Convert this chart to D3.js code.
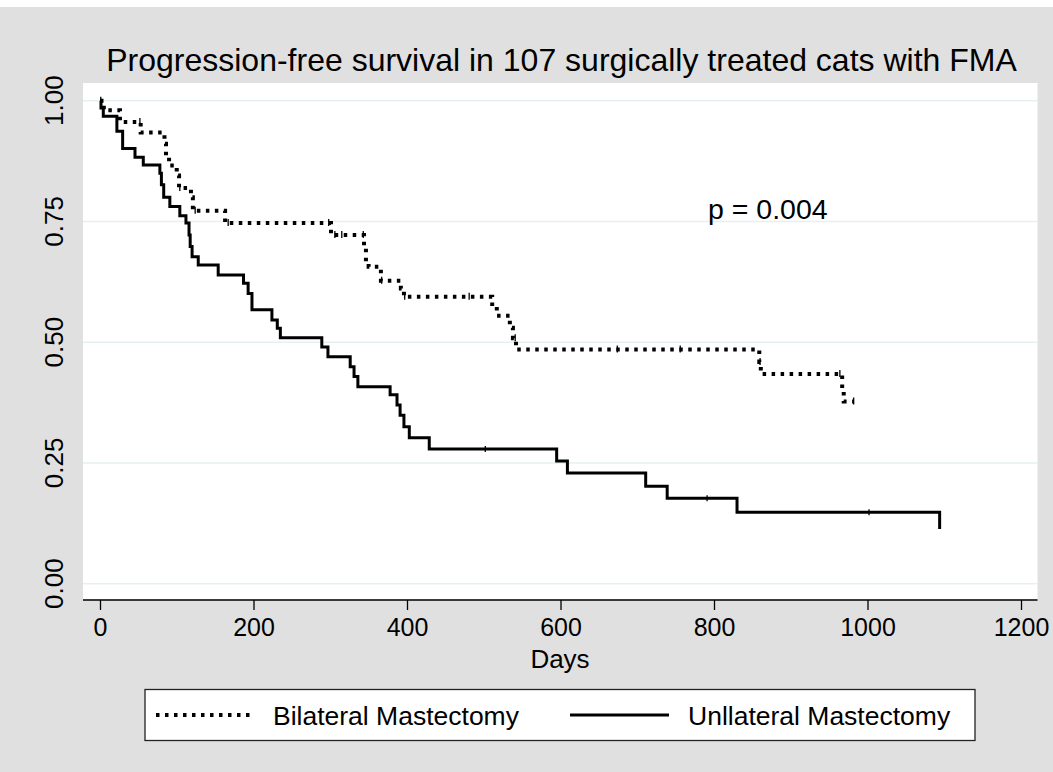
<!DOCTYPE html>
<html><head><meta charset="utf-8">
<script src="https://cdn.jsdelivr.net/npm/d3@7/dist/d3.min.js"></script>
<style>
body{margin:0;background:#e0e0e0;}
text{font-family:"Liberation Sans",Arial,Helvetica,sans-serif;fill:#000;}
</style>
</head><body>
<svg id="c" width="1053" height="772"></svg>
<script>
// ---- data ----
const titleText = "Progression-free survival in 107 surgically treated cats with FMA";
const xLabel = "Days";
const pText = "p = 0.004";
const seriesNames = ["Bilateral Mastectomy", "Unllateral Mastectomy"];
const xTicks = [0, 200, 400, 600, 800, 1000, 1200];
const yTicks = [0, 0.25, 0.5, 0.75, 1];
const yTickLabels = ["0.00", "0.25", "0.50", "0.75", "1.00"];

const bilateralTime = [0, 5, 26, 53, 84, 86, 90, 100, 103, 118.5, 121, 163, 301, 344, 346.5, 350, 366, 392, 396, 511, 517, 534, 538, 542, 859, 861, 967, 969, 982];
const bilateralSurv = [1.0, 0.980, 0.956, 0.934, 0.911, 0.887, 0.866, 0.845, 0.819, 0.800, 0.772, 0.747, 0.722, 0.694, 0.666, 0.656, 0.627, 0.611, 0.594, 0.574, 0.555, 0.530, 0.508, 0.485, 0.459, 0.434, 0.405, 0.377, 0.377];
const bilateralCensor = [1, 52, 104, 124, 167, 298, 306, 315, 343, 367, 397, 481, 541, 674, 756, 860, 964, 982];

const unilateralTime = [0, 1.3, 4.3, 22, 29.5, 45.6, 56.4, 78, 80, 83, 91, 104, 112, 116, 117.5, 120, 128, 154, 187, 193, 198, 224, 231, 235, 289, 297, 326, 331, 336, 378, 387, 391, 396, 403, 429, 595, 609, 711, 739, 830, 1094];
const unilateralSurv = [1.0, 0.985, 0.968, 0.937, 0.901, 0.883, 0.867, 0.850, 0.826, 0.800, 0.781, 0.762, 0.747, 0.722, 0.698, 0.677, 0.660, 0.639, 0.622, 0.601, 0.567, 0.546, 0.529, 0.509, 0.490, 0.470, 0.449, 0.429, 0.408, 0.391, 0.370, 0.349, 0.325, 0.302, 0.279, 0.254, 0.229, 0.202, 0.177, 0.148, 0.113];
const unilateralCensor = [502, 791, 1002];

// ---- layout ----
const W = 1053, H = 772;
const plot = {left: 83, right: 1037.5, top: 83, bottom: 599.5};
const svg = d3.select("#c");

svg.append("rect").attr("width", W).attr("height", H).attr("fill", "#e0e0e0");
svg.append("rect").attr("width", W).attr("height", 7).attr("fill", "#ffffff");
svg.append("rect").attr("x", plot.left).attr("y", plot.top)
  .attr("width", plot.right - plot.left).attr("height", plot.bottom - plot.top)
  .attr("fill", "#ffffff");

const x = d3.scaleLinear().domain([0, 1200]).range([100, 1021]);
const y = d3.scaleLinear().domain([0, 1]).range([583.7, 100.7]);

// gridlines
svg.append("g").selectAll("line").data(yTicks).join("line")
  .attr("x1", plot.left).attr("x2", plot.right)
  .attr("y1", d => y(d)).attr("y2", d => y(d))
  .attr("stroke", "#e6eff1").attr("stroke-width", 1.6);

// y tick labels (rotated)
svg.append("g").selectAll("text").data(yTicks).join("text")
  .attr("transform", d => `translate(63,${y(d)}) rotate(-90)`)
  .attr("text-anchor", "middle")
  .attr("font-size", 26)
  .text((d, i) => yTickLabels[i]);

// x axis
const xAxis = d3.axisBottom(x).tickValues(xTicks).tickSize(10).tickPadding(8).tickFormat(d3.format("d"));
const gx = svg.append("g").attr("transform", `translate(0,${plot.bottom + 0.5})`).call(xAxis);
gx.select(".domain").remove();
gx.selectAll(".tick line").attr("stroke", "#000").attr("stroke-width", 1.3);
gx.selectAll(".tick text").attr("font-size", 25).attr("font-family", "Liberation Sans, Arial, sans-serif");
svg.append("line").attr("x1", plot.left).attr("x2", plot.right)
  .attr("y1", plot.bottom + 0.5).attr("y2", plot.bottom + 0.5)
  .attr("stroke", "#000").attr("stroke-width", 1.5);

// curves
const line = d3.line().x(d => x(d[0])).y(d => y(d[1])).curve(d3.curveStepAfter);
const bil = bilateralTime.map((t, i) => [t, bilateralSurv[i]]);
const uni = unilateralTime.map((t, i) => [t, unilateralSurv[i]]);

svg.append("path").datum(uni).attr("d", line)
  .attr("fill", "none").attr("stroke", "#000").attr("stroke-width", 3);
svg.append("path").datum(bil).attr("d", line)
  .attr("fill", "none").attr("stroke", "#000").attr("stroke-width", 4)
  .attr("stroke-dasharray", "3.5 5.5");

function survAt(times, survs, t) {
  let s = survs[0];
  for (let i = 0; i < times.length; i++) { if (times[i] <= t) s = survs[i]; }
  return s;
}
const cens = svg.append("g").attr("stroke", "#000").attr("stroke-width", 1.3);
bilateralCensor.forEach(t => {
  const s = survAt(bilateralTime, bilateralSurv, t);
  cens.append("line").attr("x1", x(t)).attr("x2", x(t)).attr("y1", y(s) - 4).attr("y2", y(s) + 3);
});
unilateralCensor.forEach(t => {
  const s = survAt(unilateralTime, unilateralSurv, t);
  cens.append("line").attr("x1", x(t)).attr("x2", x(t)).attr("y1", y(s) - 3).attr("y2", y(s) + 3);
});

// p text
svg.append("text").attr("x", 708).attr("y", 219).attr("font-size", 28.5).text(pText);

// title
svg.append("text").attr("x", 561.5).attr("y", 71).attr("text-anchor", "middle")
  .attr("font-size", 32).text(titleText);

// x label
svg.append("text").attr("x", 560).attr("y", 668).attr("text-anchor", "middle")
  .attr("font-size", 26).text(xLabel);

// legend
const lg = svg.append("g");
lg.append("rect").attr("x", 145).attr("y", 689.5).attr("width", 830).attr("height", 51)
  .attr("fill", "#fff").attr("stroke", "#222").attr("stroke-width", 1.3);
lg.append("line").attr("x1", 156).attr("x2", 254).attr("y1", 715).attr("y2", 715)
  .attr("stroke", "#000").attr("stroke-width", 4).attr("stroke-dasharray", "3.5 5.5");
lg.append("text").attr("x", 273).attr("y", 724.5).attr("font-size", 26.5).text(seriesNames[0]);
lg.append("line").attr("x1", 570).attr("x2", 669).attr("y1", 715).attr("y2", 715)
  .attr("stroke", "#000").attr("stroke-width", 3);
lg.append("text").attr("x", 688).attr("y", 724.5).attr("font-size", 26.5).text(seriesNames[1]);
</script>
</body></html>
